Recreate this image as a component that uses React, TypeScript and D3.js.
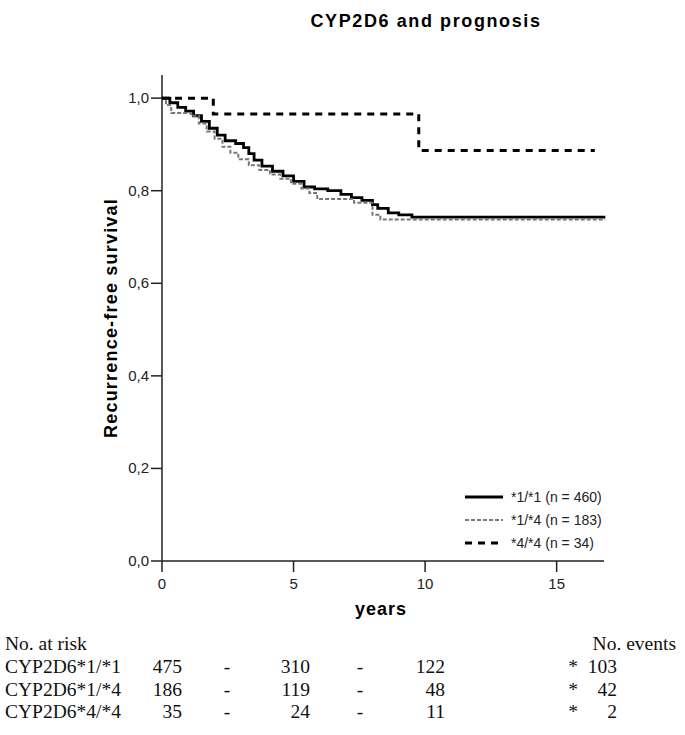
import * as d3 from "d3";

// Kaplan-Meier steps: [years, survival]
const wt11: [number, number][] = [
  [0, 1.0], [0.3, 0.99], [0.6, 0.98], [0.9, 0.972], [1.2, 0.962], [1.5, 0.95],
  [1.8, 0.935], [2.1, 0.92], [2.4, 0.908], [2.8, 0.902], [3.1, 0.893], [3.3, 0.88],
  [3.5, 0.866], [3.8, 0.853], [4.2, 0.842], [4.6, 0.832], [5.0, 0.82], [5.4, 0.808],
  [5.8, 0.804], [6.3, 0.8], [6.8, 0.792], [7.2, 0.785], [7.6, 0.779], [8.0, 0.77],
  [8.2, 0.762], [8.6, 0.752], [9.0, 0.748], [9.5, 0.743], [16.85, 0.743],
];
const het14: [number, number][] = [
  [0, 1.0], [0.15, 0.985], [0.35, 0.968], [1.1, 0.962], [1.4, 0.945], [1.7, 0.928],
  [2.0, 0.912], [2.3, 0.895], [2.6, 0.882], [2.9, 0.868], [3.3, 0.855], [3.7, 0.845],
  [4.1, 0.835], [4.5, 0.826], [4.9, 0.815], [5.3, 0.805], [5.6, 0.795], [5.9, 0.782],
  [7.3, 0.774], [8.0, 0.748], [8.3, 0.738], [16.85, 0.738],
];
const hom44: [number, number][] = [
  [0, 1.0], [1.95, 0.966], [9.76, 0.887], [16.45, 0.887],
];

const legendLabels = ["*1/*1 (n = 460)", "*1/*4 (n = 183)", "*4/*4 (n = 34)"];

const xTicks = [0, 5, 10, 15];
const yTicks = [0, 0.2, 0.4, 0.6, 0.8, 1.0];

const riskGroups = ["CYP2D6*1/*1", "CYP2D6*1/*4", "CYP2D6*4/*4"];
const atRisk0 = [475, 186, 35];
const atRisk5 = [310, 119, 24];
const atRisk10 = [122, 48, 11];
const events = [103, 42, 2];

const series = [
  { data: wt11, stroke: "#000", width: 2.8, dash: "none" },
  { data: het14, stroke: "#777", width: 2, dash: "4,2" },
  { data: hom44, stroke: "#000", width: 3, dash: "7,6" },
];

export default function App() {
  const W = 685;
  const H = 735;
  const x = d3.scaleLinear().domain([0, 16.8]).range([162, 604]);
  const y = d3.scaleLinear().domain([0, 1.05]).range([561, 75]);
  const line = d3
    .line<[number, number]>()
    .x((d) => x(d[0]))
    .y((d) => y(d[1]))
    .curve(d3.curveStepAfter);

  const sans = "'Liberation Sans', Arial, sans-serif";
  const serif = "'Liberation Serif', 'Times New Roman', serif";
  const fmt = (v: number) => v.toFixed(1).replace(".", ",");
  const rowY = [673, 696, 718];

  return (
    <svg
      width={W}
      height={H}
      style={{ position: "absolute", left: 0, top: 0, background: "#fff" }}
    >
      <text
        x={426}
        y={27}
        textAnchor="middle"
        fontFamily={sans}
        fontWeight="bold"
        fontSize={18}
        letterSpacing={1.6}
      >
        CYP2D6 and prognosis
      </text>

      {/* axes */}
      <g stroke="#222" strokeWidth={1.5}>
        <line x1={x(0)} x2={x(0)} y1={y(1.05)} y2={y(0)} />
        <line x1={x(0)} x2={x(16.8)} y1={y(0)} y2={y(0)} />
        {yTicks.map((t) => (
          <line key={t} x1={x(0) - 11} x2={x(0)} y1={y(t)} y2={y(t)} />
        ))}
        {xTicks.map((t) => (
          <line key={t} x1={x(t)} x2={x(t)} y1={y(0)} y2={y(0) + 11} />
        ))}
      </g>
      <g fontFamily={sans} fontSize={15} fill="#222">
        {yTicks.map((t) => (
          <text key={t} x={x(0) - 13} y={y(t) + 5} textAnchor="end">
            {fmt(t)}
          </text>
        ))}
        {xTicks.map((t) => (
          <text key={t} x={x(t)} y={y(0) + 28} textAnchor="middle">
            {t}
          </text>
        ))}
      </g>
      <text
        x={381}
        y={615}
        textAnchor="middle"
        fontFamily={sans}
        fontWeight="bold"
        fontSize={18}
        letterSpacing={1}
      >
        years
      </text>
      <text
        transform={`translate(117,${(y(1.05) + y(0)) / 2}) rotate(-90)`}
        textAnchor="middle"
        fontFamily={sans}
        fontWeight="bold"
        fontSize={18}
        letterSpacing={1.2}
      >
        Recurrence-free survival
      </text>

      {/* curves */}
      {series.map((s, i) => (
        <path
          key={i}
          d={line(s.data) ?? ""}
          fill="none"
          stroke={s.stroke}
          strokeWidth={s.width}
          strokeDasharray={s.dash}
        />
      ))}

      {/* legend */}
      {series.map((s, i) => (
        <g key={i} transform={`translate(0,${497 + i * 23})`}>
          <line x1={465} x2={503} y1={0} y2={0} stroke={s.stroke} strokeWidth={s.width} strokeDasharray={s.dash} />
          <text x={511} y={5} fontFamily={sans} fontSize={14} fill="#222">
            {legendLabels[i]}
          </text>
        </g>
      ))}

      {/* numbers at risk */}
      <g fontFamily={serif} fontSize={19.5} fill="#111">
        <text x={5} y={650}>No. at risk</text>
        <text x={676} y={650} textAnchor="end">No. events</text>
        {riskGroups.map((g, i) => (
          <g key={g}>
            <text x={5} y={rowY[i]}>{g}</text>
            <text x={182} y={rowY[i]} textAnchor="end">{atRisk0[i]}</text>
            <text x={227} y={rowY[i]} textAnchor="middle">-</text>
            <text x={310} y={rowY[i]} textAnchor="end">{atRisk5[i]}</text>
            <text x={360} y={rowY[i]} textAnchor="middle">-</text>
            <text x={445} y={rowY[i]} textAnchor="end">{atRisk10[i]}</text>
            <text x={573} y={rowY[i]} textAnchor="middle">*</text>
            <text x={617} y={rowY[i]} textAnchor="end">{events[i]}</text>
          </g>
        ))}
      </g>
    </svg>
  );
}
